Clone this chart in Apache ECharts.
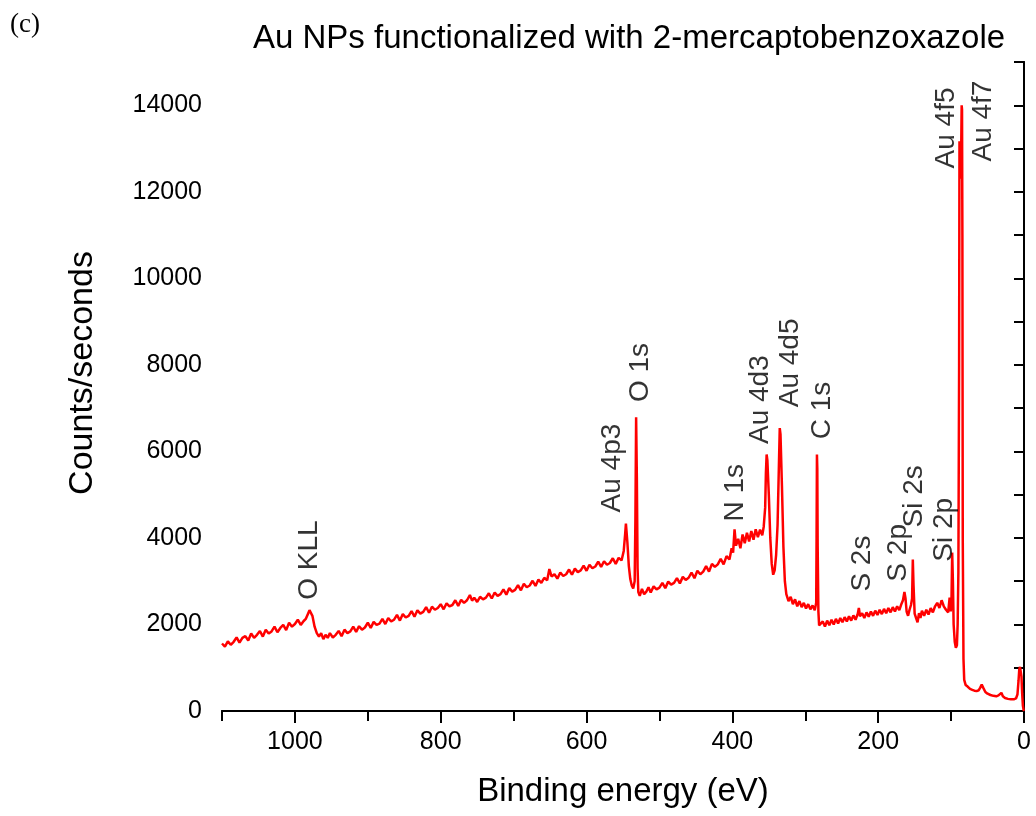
<!DOCTYPE html>
<html>
<head>
<meta charset="utf-8">
<script src="https://cdn.jsdelivr.net/npm/echarts@6/dist/echarts.min.js"></script>
<style>
  html, body { margin: 0; padding: 0; background: #fff; }
  #chart { width: 1036px; height: 816px; }
</style>
</head>
<body>
<div id="chart"></div>
<script>
// survey spectrum: [binding energy (eV), counts/s]
const spectrum = [
  [1100, 1560], [1096, 1490], [1092, 1610], [1088, 1530], [1084, 1600], [1080, 1700], [1076, 1580], [1072, 1690],
  [1068, 1730], [1064, 1630], [1060, 1790], [1056, 1690], [1052, 1760], [1048, 1850], [1044, 1720], [1040, 1880],
  [1036, 1790], [1032, 1840], [1028, 1950], [1024, 1820], [1020, 1920], [1016, 1990], [1012, 1870], [1008, 2040],
  [1004, 1950], [1000, 2010], [996, 2110], [992, 1990], [988, 2080], [985, 2130], [982, 2250], [980, 2330],
  [978, 2310], [976, 2200], [973, 1950], [970, 1800], [967, 1720], [964, 1800], [961, 1660], [958, 1760],
  [955, 1690], [952, 1800], [948, 1700], [944, 1760], [940, 1850], [936, 1730], [932, 1880], [928, 1800],
  [924, 1840], [920, 1950], [916, 1830], [912, 1960], [908, 1880], [904, 1930], [900, 2040], [896, 1920],
  [892, 2060], [888, 1990], [884, 2020], [880, 2130], [876, 2010], [872, 2150], [868, 2070], [864, 2110],
  [860, 2220], [856, 2090], [852, 2240], [848, 2160], [844, 2200], [840, 2310], [836, 2180], [832, 2330],
  [828, 2250], [824, 2290], [820, 2400], [816, 2270], [812, 2410], [808, 2340], [804, 2380], [800, 2470],
  [796, 2350], [792, 2490], [788, 2420], [784, 2450], [780, 2560], [776, 2430], [772, 2570], [768, 2500],
  [764, 2560], [760, 2680], [757, 2550], [754, 2620], [750, 2520], [746, 2640], [742, 2580], [738, 2620],
  [734, 2720], [730, 2600], [726, 2740], [722, 2660], [718, 2700], [714, 2810], [710, 2690], [706, 2840],
  [702, 2760], [698, 2800], [694, 2910], [690, 2790], [686, 2940], [682, 2860], [678, 2900], [674, 3010],
  [670, 2890], [666, 3040], [662, 2960], [658, 3080], [654, 3020], [651, 3280], [648, 3110], [644, 3160],
  [640, 3060], [636, 3200], [632, 3120], [628, 3160], [624, 3270], [620, 3150], [616, 3290], [612, 3210],
  [608, 3250], [604, 3360], [600, 3240], [596, 3380], [592, 3300], [588, 3340], [584, 3450], [580, 3330],
  [576, 3460], [572, 3380], [568, 3420], [564, 3530], [560, 3400], [556, 3540], [552, 3480], [549, 3700],
  [547, 4100], [546, 4330], [544, 3900], [542, 3350], [540, 3050], [538, 2900], [536, 2830], [534, 3000],
  [533, 4400], [532, 6790], [531, 5400], [530, 3300], [529, 2750], [527, 2660], [524, 2820], [521, 2700],
  [518, 2760], [515, 2860], [512, 2740], [508, 2880], [504, 2810], [500, 2850], [496, 2960], [492, 2840],
  [488, 2990], [484, 2920], [480, 2960], [476, 3070], [472, 2950], [468, 3100], [464, 3030], [460, 3080],
  [456, 3200], [452, 3070], [448, 3240], [444, 3160], [440, 3220], [436, 3350], [432, 3220], [428, 3400],
  [424, 3330], [420, 3390], [416, 3520], [412, 3390], [408, 3580], [404, 3500], [401, 3760], [399, 3660],
  [397, 4200], [395, 3820], [392, 3980], [389, 3760], [386, 4080], [383, 3880], [380, 4120], [377, 3920],
  [374, 4160], [371, 3960], [368, 4200], [365, 4020], [362, 4190], [359, 4060], [357, 4260], [355, 4700],
  [354, 5500], [353, 5930], [352, 5800], [350, 5000], [348, 4000], [346, 3400], [344, 3150], [342, 3250],
  [340, 3600], [338, 4300], [336, 5800], [335, 6540], [334, 6400], [332, 5200], [330, 3800], [328, 3000],
  [326, 2700], [323, 2540], [320, 2640], [317, 2470], [314, 2580], [311, 2420], [308, 2540], [305, 2400],
  [302, 2500], [299, 2370], [296, 2470], [293, 2350], [290, 2440], [287, 2330], [285, 2500], [284.5, 4000],
  [284, 5930], [283.5, 5600], [283, 3800], [282, 2300], [281, 1980], [279, 1940], [276, 2070], [273, 1950],
  [270, 2090], [267, 1980], [264, 2110], [261, 2000], [258, 2130], [255, 2020], [252, 2150], [249, 2050],
  [246, 2170], [243, 2070], [240, 2190], [237, 2090], [234, 2210], [231, 2110], [228, 2250], [226.5, 2380],
  [225, 2190], [222, 2260], [219, 2150], [216, 2280], [213, 2180], [210, 2300], [207, 2200], [204, 2320],
  [201, 2220], [198, 2340], [195, 2240], [192, 2360], [189, 2260], [186, 2380], [183, 2280], [180, 2400],
  [177, 2300], [174, 2420], [171, 2330], [168, 2480], [166, 2560], [164, 2750], [162.5, 2600], [161, 2300],
  [159, 2200], [157, 2340], [155, 2450], [153.5, 2600], [152.5, 3500], [151.5, 2900], [150, 2250], [148, 2150],
  [146, 2050], [144, 2260], [142, 2150], [140, 2320], [137, 2200], [134, 2340], [131, 2230], [128, 2380],
  [125, 2280], [122, 2420], [119, 2500], [116, 2380], [113, 2560], [110, 2420], [107, 2340], [104, 2280],
  [102, 2620], [100.5, 2300], [99.5, 2500], [98.5, 3660], [97.5, 3000], [96.5, 2000], [95, 1600], [93.5, 1460],
  [92, 1520], [91, 2000], [90, 3200], [89, 8000], [88.5, 13170], [88, 13100], [87.5, 12600], [87, 12300],
  [86.5, 12600], [86, 13200], [85.5, 14000], [85, 13900], [84.5, 11000], [84, 4000], [83, 1200], [82, 720],
  [80, 600], [77, 560], [74, 510], [71, 490], [68, 470], [65, 460], [62, 480], [60, 540], [58, 610], [56, 540],
  [53, 440], [50, 400], [46, 370], [42, 350], [38, 340], [35, 360], [33, 400], [31, 420], [29, 340],
  [26, 300], [22, 280], [18, 270], [14, 270], [11, 290], [9, 380], [7.5, 700], [6.5, 960], [5.5, 1020],
  [4.5, 990], [3.5, 800], [2.5, 400], [1.5, 120], [0.5, 20], [0, 0]
];

// peak labels: [energy at text centre, counts at text start, text]
const peakLabels = [
  [980, 2570, 'O KLL'],
  [565, 4590, 'Au 4p3'],
  [526, 7140, 'O 1s'],
  [396, 4380, 'N 1s'],
  [362, 6170, 'Au 4d3'],
  [320, 7020, 'Au 4d5'],
  [276, 6280, 'C 1s'],
  [222, 2760, 'S 2s'],
  [173, 2990, 'S 2p'],
  [151, 4240, 'Si 2s'],
  [110, 3450, 'Si 2p'],
  [107, 12540, 'Au 4f5'],
  [56, 12700, 'Au 4f7']
];

const xMajorTicks = [0, 200, 400, 600, 800, 1000];
const yMajorTicks = [0, 2000, 4000, 6000, 8000, 10000, 12000, 14000];

const FONT = 'Liberation Sans, Arial, sans-serif';
const line = { show: true, lineStyle: { color: '#000', width: 2 } };

let myChart = echarts.init(document.getElementById('chart'));
myChart.setOption({
  animation: false,
  backgroundColor: '#fff',
  title: {
    text: 'Au NPs functionalized with 2-mercaptobenzoxazole',
    left: 248,
    top: 17,
    textStyle: { fontFamily: FONT, fontSize: 33, fontWeight: 'normal', color: '#000' }
  },
  graphic: [
    {
      type: 'text',
      left: 10,
      top: 11,
      style: { text: '(c)', font: '27px "Liberation Serif", "Times New Roman", serif', fill: '#000' }
    },
    {
      // y axis title, sits a bit above the plot centre in the original
      type: 'text',
      x: 83,
      y: 373,
      rotation: Math.PI / 2,
      style: {
        text: 'Counts/seconds',
        font: '34px "Liberation Sans", Arial, sans-serif',
        fill: '#000',
        align: 'center',
        verticalAlign: 'middle'
      }
    }
  ],
  grid: {
    left: 222,
    right: 12,
    top: 62,
    bottom: 105
  },
  xAxis: [
    {
      // main bottom axis: labels + long ticks
      type: 'value',
      inverse: true,
      min: 0,
      max: 1100,
      position: 'bottom',
      name: 'Binding energy (eV)',
      nameLocation: 'middle',
      nameGap: 64,
      nameTextStyle: { fontFamily: FONT, fontSize: 33, color: '#000' },
      axisLine: line,
      axisTick: { show: true, length: 12, lineStyle: { color: '#000', width: 2 }, customValues: xMajorTicks },
      axisLabel: {
        fontFamily: FONT, fontSize: 25, color: '#000', margin: 19,
        customValues: xMajorTicks,
        formatter: v => String(v)
      },
      splitLine: { show: false }
    },
    {
      // short ticks every 100
      type: 'value',
      inverse: true,
      min: 0,
      max: 1100,
      interval: 100,
      position: 'bottom',
      axisLine: { show: false },
      axisTick: { show: true, length: 6, lineStyle: { color: '#000', width: 2 } },
      axisLabel: { show: false },
      splitLine: { show: false }
    },
    {
      // top frame, inward ticks
      type: 'value',
      inverse: true,
      min: 0,
      max: 1100,
      interval: 100,
      position: 'top',
      axisLine: line,
      axisTick: { show: true, inside: true, length: 10, lineStyle: { color: '#000', width: 2 } },
      axisLabel: { show: false },
      splitLine: { show: false }
    }
  ],
  yAxis: [
    {
      type: 'value',
      min: 0,
      max: 15000,
      position: 'left',
      axisLine: line,
      axisTick: { show: true, length: 10, lineStyle: { color: '#000', width: 2 }, customValues: yMajorTicks },
      axisLabel: {
        fontFamily: FONT, fontSize: 25, color: '#000', margin: 20,
        customValues: yMajorTicks,
        formatter: v => String(v)
      },
      splitLine: { show: false }
    },
    {
      type: 'value',
      min: 0,
      max: 15000,
      interval: 1000,
      position: 'left',
      axisLine: { show: false },
      axisTick: { show: true, length: 6, lineStyle: { color: '#000', width: 2 } },
      axisLabel: { show: false },
      splitLine: { show: false }
    },
    {
      type: 'value',
      min: 0,
      max: 15000,
      interval: 1000,
      position: 'right',
      axisLine: line,
      axisTick: { show: true, inside: true, length: 10, lineStyle: { color: '#000', width: 2 } },
      axisLabel: { show: false },
      splitLine: { show: false }
    }
  ],
  series: [
    {
      type: 'line',
      data: spectrum,
      showSymbol: false,
      symbol: 'none',
      lineStyle: { color: '#ff0000', width: 2.5 },
      z: 3
    },
    {
      type: 'scatter',
      data: peakLabels.map(p => ({ value: [p[0], p[1]], name: p[2] })),
      symbolSize: 1,
      itemStyle: { color: 'transparent' },
      label: {
        show: true,
        position: 'inside',
        formatter: p => p.name,
        rotate: 90,
        align: 'left',
        verticalAlign: 'middle',
        fontFamily: FONT,
        fontSize: 28,
        color: '#000'
      },
      z: 4
    }
  ]
});
myChart.resize();
</script>
</body>
</html>
